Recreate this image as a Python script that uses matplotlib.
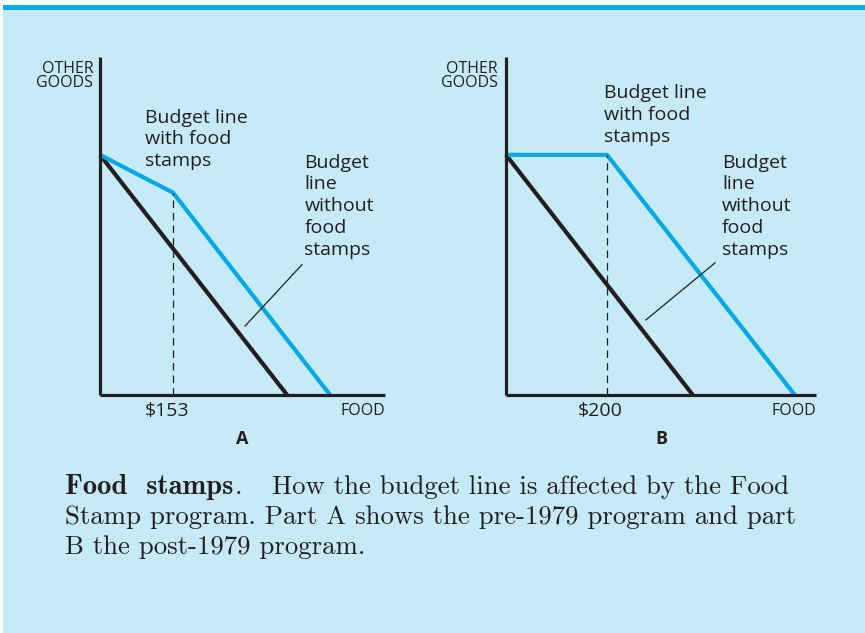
import matplotlib.pyplot as plt
from matplotlib.patches import Rectangle

# panel A (pre-1979): food on x, other goods on y
a_without_x = [0, 392]
a_without_y = [400, 0]
a_with_x = [0, 153, 482]
a_with_y = [400, 337, 0]
a_kink = 153
a_xmax, a_ymax = 597, 563

# panel B (post-1979)
b_without_x = [0, 370]
b_without_y = [400, 0]
b_with_x = [0, 200, 572]
b_with_y = [400, 400, 0]
b_kink = 200
b_xmax, b_ymax = 614, 563

BG = '#c7eaf8'
BLUE = '#00a9e3'
INK = '#231f20'
SANS = 'Open Sans'

fig = plt.figure(figsize=(8.65, 6.33), dpi=100)
fig.patch.set_facecolor('white')
fig.patches.append(Rectangle((3/865, 0), 1, 1 - 10/633, transform=fig.transFigure,
                             facecolor=BG, edgecolor='none', zorder=-10))
fig.patches.append(Rectangle((3/865, 1 - 10/633), 1, 5/633, transform=fig.transFigure,
                             facecolor='#00aeef', edgecolor='none', zorder=-10))


def panel(rect, xmax, ymax, wo_x, wo_y, w_x, w_y, kink, kink_lbl, letter,
          txt1_xy, txt2_xy, leader, other_x):
    ax = fig.add_axes(rect)
    ax.set_xlim(0, xmax)
    ax.set_ylim(0, ymax)
    ax.patch.set_alpha(0)
    for s in ['top', 'right']:
        ax.spines[s].set_visible(False)
    for s in ['left', 'bottom']:
        ax.spines[s].set_linewidth(2.3)
        ax.spines[s].set_color(INK)
        ax.spines[s].set_capstyle('butt')
    ax.set_xticks([])
    ax.set_yticks([])
    ax.plot(wo_x, wo_y, color=INK, lw=3, solid_capstyle='butt', clip_on=False)
    ax.plot(w_x, w_y, color=BLUE, lw=3, solid_capstyle='butt', clip_on=False)
    ky = w_y[1]
    ax.plot([kink, kink], [0, ky], color=INK, lw=0.9, ls=(0, (6, 4)))
    ax.plot(leader[0], leader[1], color=INK, lw=0.9)
    ax.text(kink - 13, -11, kink_lbl, ha='center', va='top', fontsize=14,
            family=SANS, color=INK)
    ax.text(xmax, -13, 'FOOD', ha='right', va='top', fontsize=11.5,
            family=SANS, color=INK)
    ax.text(0.5, -0.105, letter, transform=ax.transAxes, ha='center', va='top',
            fontsize=13, fontweight='bold', family=SANS, color=INK)
    ax.text(other_x, ymax - 6, 'OTHER\nGOODS', ha='right', va='top', fontsize=11.5,
            family=SANS, color=INK, linespacing=0.9)
    ax.text(txt1_xy[0], txt1_xy[1], 'Budget line\nwith food\nstamps',
            ha='left', va='top', fontsize=14, family=SANS, color=INK,
            linespacing=1.27)
    ax.text(txt2_xy[0], txt2_xy[1], 'Budget\nline\nwithout\nfood\nstamps',
            ha='left', va='top', fontsize=14, family=SANS, color=INK,
            linespacing=1.27)
    return ax


panel([100/865, 238/633, 285/865, 338/633], a_xmax, a_ymax,
      a_without_x, a_without_y, a_with_x, a_with_y, a_kink, '$153', 'A',
      (94, 477), (428, 402), ([423, 304], [217, 115]), -14)
panel([506/865, 238/633, 310/865, 338/633], b_xmax, b_ymax,
      b_without_x, b_without_y, b_with_x, b_with_y, b_kink, '$200', 'B',
      (194, 518), (428, 402), ([414, 277], [220, 125]), -16)

# caption: bold lead-in, then regular text
fig.canvas.draw()
r = fig.canvas.get_renderer()
cap_fs = 19.3
base = [494, 524, 554]
t = fig.text(65/865, 1 - base[0]/633, 'Food  stamps', family='cmb10', fontsize=20.5,
             va='baseline', color=INK)
w = t.get_window_extent(r).width / 865
fig.text(65/865 + w + 1/865, 1 - base[0]/633, '.', family='cmr10',
         fontsize=cap_fs, va='baseline', color=INK)
fig.text(272/865, 1 - base[0]/633,
         'How the budget line is affected by the Food', family='cmr10',
         fontsize=cap_fs, va='baseline', color=INK)
fig.text(65/865, 1 - base[1]/633,
         'Stamp program. Part A shows the pre-1979 program and part',
         family='cmr10', fontsize=cap_fs, va='baseline', color=INK)
fig.text(65/865, 1 - base[2]/633, 'B the post-1979 program.',
         family='cmr10', fontsize=cap_fs, va='baseline', color=INK)

fig.savefig('out.png', dpi=100, facecolor=fig.get_facecolor())
